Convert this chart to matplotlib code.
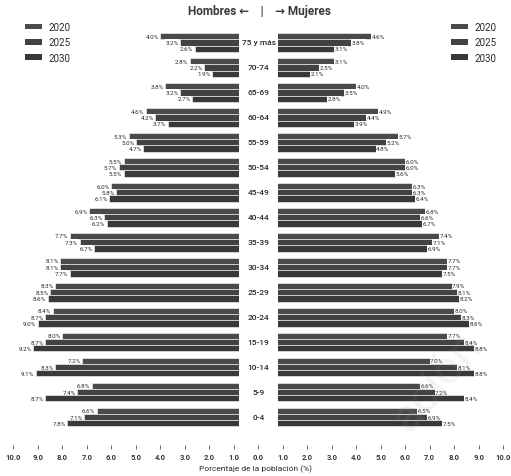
"""
Pirámide de población 2020 / 2025 / 2030 por grupo de edad.
"""

import matplotlib
matplotlib.use("Agg")
import matplotlib.pyplot as plt
from matplotlib.patches import Patch

plt.rcParams["font.family"] = ["Roboto", "DejaVu Sans"]

# grupos de edad, de abajo hacia arriba
grupos = ["0-4", "5-9", "10-14", "15-19", "20-24", "25-29", "30-34", "35-39",
          "40-44", "45-49", "50-54", "55-59", "60-64", "65-69", "70-74", "75 y más"]
anios = ["2020", "2025", "2030"]

hombres_2020 = [6.6, 6.8, 7.2, 8.0, 8.4, 8.3, 8.1, 7.7, 6.9, 6.0, 5.5, 5.3, 4.6, 3.8, 2.8, 4.0]
hombres_2025 = [7.1, 7.4, 8.3, 8.7, 8.7, 8.5, 8.1, 7.3, 6.3, 5.8, 5.7, 5.0, 4.2, 3.2, 2.2, 3.2]
hombres_2030 = [7.8, 8.7, 9.1, 9.2, 9.0, 8.6, 7.7, 6.7, 6.2, 6.1, 5.5, 4.7, 3.7, 2.7, 1.9, 2.6]

mujeres_2020 = [6.5, 6.6, 7.0, 7.7, 8.0, 7.9, 7.7, 7.4, 6.8, 6.3, 6.0, 5.7, 4.9, 4.0, 3.1, 4.6]
mujeres_2025 = [6.9, 7.2, 8.1, 8.4, 8.3, 8.1, 7.7, 7.1, 6.6, 6.3, 6.0, 5.2, 4.4, 3.5, 2.5, 3.8]
mujeres_2030 = [7.5, 8.4, 8.8, 8.8, 8.6, 8.2, 7.5, 6.9, 6.7, 6.4, 5.6, 4.8, 3.9, 2.8, 2.1, 3.1]

ticks = list(range(-10, 11))

colores = ["#4a4a4a", "#424242", "#393939"]
desplaz = [0.25, 0.0, -0.25]
alto = 0.25

fig = plt.figure(figsize=(5.11, 4.77), dpi=100)
ax = fig.add_axes([0.0, 31 / 477, 1.0, 431 / 477])

hombres = [hombres_2020, hombres_2025, hombres_2030]
mujeres = [mujeres_2020, mujeres_2025, mujeres_2030]

for k in range(3):
    for i in range(len(grupos)):
        y = i + desplaz[k]
        h = hombres[k][i]
        m = mujeres[k][i]
        ax.barh(y, -h, height=alto, color=colores[k], edgecolor="white", linewidth=0.4, zorder=2)
        ax.barh(y, m, height=alto, color=colores[k], edgecolor="white", linewidth=0.4, zorder=2)
        ax.text(-h - 0.06, y, f"{h:.1f}%", ha="right", va="center", fontsize=4.5,
                color="#2a2a2a", zorder=5,
                bbox=dict(facecolor="white", edgecolor="none", pad=0.4))
        ax.text(m + 0.02, y, f"{m:.1f}%", ha="left", va="center", fontsize=4.5,
                color="#2a2a2a", zorder=5,
                bbox=dict(facecolor="white", edgecolor="none", pad=0.4))

# franja central con las etiquetas de edad
ax.axvspan(-0.8, 0.82, color="white", zorder=3, linewidth=0)
for i, g in enumerate(grupos):
    ax.text(0.01, i, g, ha="center", va="center", fontsize=6, color="#2a2a2a",
            fontweight="medium", zorder=6)

ax.set_xlim(-10.55, 10.32)
ax.set_ylim(-1.12, 16.14)
ax.set_xticks(ticks)
ax.set_xticklabels([f"{abs(t):.1f}" for t in ticks], fontsize=5.5, fontweight="bold",
                   color="#3a3a3a")
ax.tick_params(axis="x", direction="out", length=3, width=0.6, color="#555555", pad=3)
ax.set_yticks([])
for s in ax.spines.values():
    s.set_visible(False)
ax.set_xlabel("Porcentaje de la población (%)", fontsize=6, color="#2a2a2a", labelpad=3)

fig.text(0.508, 0.975, "Hombres ←    |    → Mujeres", ha="center", va="center",
         fontsize=8.5, fontweight="bold", color="#3a3a3a")

handles = [Patch(facecolor=c, edgecolor="none") for c in colores]
for x0 in [20 / 511, 446 / 511]:
    fig.legend(handles, anios, loc="upper left", bbox_to_anchor=(x0, 0.962),
               frameon=False, fontsize=7, borderpad=0, handlelength=1.8,
               handleheight=0.5, handletextpad=0.6, labelspacing=0.55,
               labelcolor="#2a2a2a")

# marca de agua tenue
fig.text(0.855, 0.2, "ación", rotation=50, ha="center", va="center", fontsize=34,
         color="#999999", alpha=0.12, zorder=10)

fig.savefig("out.png", dpi=100)
